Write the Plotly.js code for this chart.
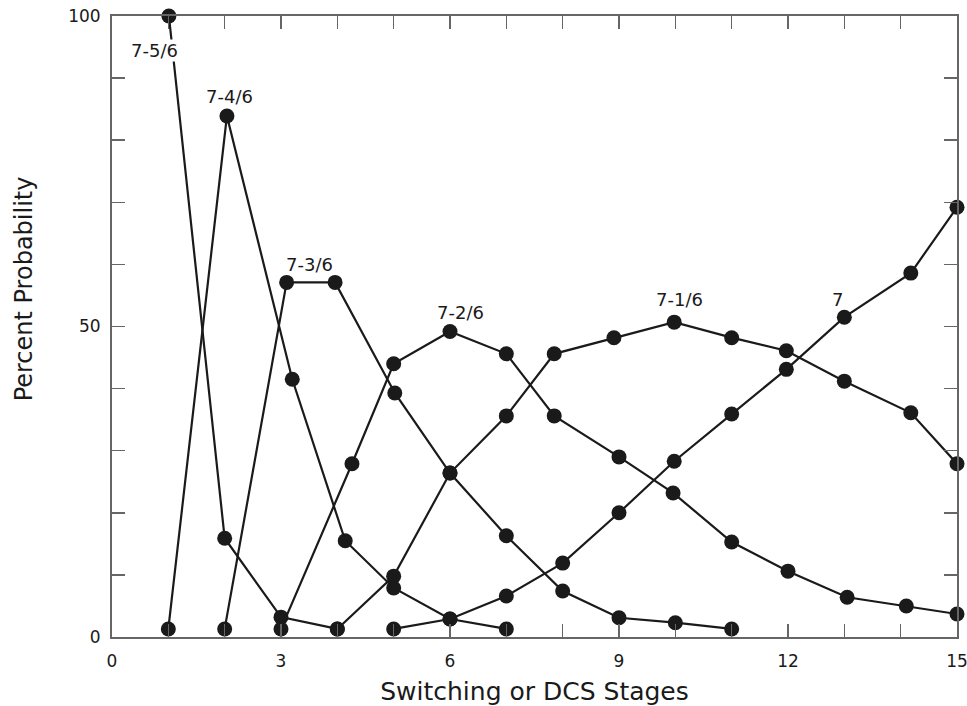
<!DOCTYPE html>
<html>
<head>
<meta charset="utf-8">
<script src="https://cdn.plot.ly/plotly-3.0.1.min.js"></script>
<style>html,body{margin:0;padding:0;background:#fff;}#chart{width:967px;height:706px;}</style>
</head>
<body>
<div id="chart"></div>
<script>
// Series names (curve labels)
const seriesNames = ["7-5/6", "7-4/6", "7-3/6", "7-2/6", "7-1/6", "7"];

// Values (x = stage, y = percent probability)
const x_7_5 = [1.01, 2.0, 3.0, 4.0];
const y_7_5 = [100, 15.9, 3.2, 1.3];

const x_7_4 = [1.0, 2.04, 3.2, 4.14, 5.0, 6.0, 7.0];
const y_7_4 = [1.3, 83.9, 41.5, 15.5, 7.9, 2.9, 1.3];

const x_7_3 = [2.0, 3.1, 3.96, 5.02, 6.0, 7.0, 8.0, 9.0, 10.0, 11.0];
const y_7_3 = [1.3, 57.1, 57.1, 39.3, 26.4, 16.3, 7.4, 3.1, 2.3, 1.3];

const x_7_2 = [3.0, 4.26, 5.0, 6.0, 7.0, 7.85, 9.0, 9.96, 11.0, 12.0, 13.05, 14.1, 15.0];
const y_7_2 = [1.3, 27.9, 44.0, 49.2, 45.6, 35.6, 29.0, 23.2, 15.3, 10.6, 6.4, 5.0, 3.7];

const x_7_1 = [4.0, 5.0, 6.0, 7.0, 7.85, 8.91, 9.98, 11.0, 11.97, 13.0, 14.18, 15.0];
const y_7_1 = [1.3, 9.8, 26.4, 35.6, 45.6, 48.2, 50.7, 48.2, 46.1, 41.2, 36.1, 27.9];

const x_7 = [5.0, 6.0, 7.0, 8.0, 9.0, 9.98, 11.0, 11.97, 13.0, 14.18, 15.0];
const y_7 = [1.3, 2.9, 6.6, 11.9, 20.0, 28.3, 35.9, 43.1, 51.5, 58.6, 69.2];

// Tick values / labels
const xTickVals = [0,1,2,3,4,5,6,7,8,9,10,11,12,13,14,15];
const xTickText = ["0","","","3","","","6","","","9","","","12","","","15"];
const yTickVals = [0,10,20,30,40,50,60,70,80,90,100];
const yTickText = ["0","","","","","50","","","","","100"];

// Axis titles
const xTitle = "Switching or DCS Stages";
const yTitle = "Percent Probability";

// Curve label positions (annotation anchors)
const labelX = [0.75, 2.08, 3.5, 6.18, 10.07, 12.87];
const labelY = [94.5, 87.0, 60.0, 52.3, 54.3, 54.3];

const xs = [x_7_5, x_7_4, x_7_3, x_7_2, x_7_1, x_7];
const ys = [y_7_5, y_7_4, y_7_3, y_7_2, y_7_1, y_7];

const FONT = "DejaVu Sans, Liberation Sans, sans-serif";

const traces = xs.map((xv, i) => ({
  x: xv, y: ys[i], name: seriesNames[i],
  type: "scatter", mode: "lines+markers",
  line: {color: "#1a1a1a", width: 2.2},
  marker: {color: "#1a1a1a", size: 15},
  cliponaxis: false,
  showlegend: false
}));

const annotations = seriesNames.map((n, i) => ({
  x: labelX[i], y: labelY[i], xref: "x", yref: "y",
  text: n, showarrow: false, bgcolor: i === 0 ? "#ffffff" : "rgba(0,0,0,0)",
  borderpad: 0,
  font: {family: FONT, size: 18, color: "#1a1a1a"}
}));

annotations.push({
  xref: "paper", yref: "paper", x: -0.104, y: 0.56,
  xanchor: "center", yanchor: "middle", textangle: -90,
  text: yTitle, showarrow: false,
  font: {family: FONT, size: 24, color: "#1a1a1a"}
});

const layout = {
  width: 967, height: 706,
  margin: {l: 112, r: 10, t: 16, b: 69},
  paper_bgcolor: "#fff", plot_bgcolor: "#fff",
  font: {family: FONT, color: "#1a1a1a"},
  xaxis: {
    range: [0, 15], tickvals: xTickVals, ticktext: xTickText,
    ticks: "inside", ticklen: 13, tickwidth: 1.5, tickcolor: "#666",
    showline: true, linecolor: "#666", linewidth: 2, mirror: "ticks",
    showgrid: false, zeroline: false, ticklabeloverflow: "allow",
    ticklabelstandoff: 8,
    tickfont: {family: FONT, size: 17, color: "#1a1a1a"},
    title: {text: xTitle, font: {family: FONT, size: 25, color: "#1a1a1a"}, standoff: 12}
  },
  yaxis: {
    range: [0, 100], tickvals: yTickVals, ticktext: yTickText,
    ticks: "inside", ticklen: 13, tickwidth: 1.5, tickcolor: "#666",
    showline: true, linecolor: "#666", linewidth: 2, mirror: "ticks",
    showgrid: false, zeroline: false, ticklabeloverflow: "allow",
    ticklabelstandoff: 6,
    tickfont: {family: FONT, size: 17, color: "#1a1a1a"}
  },
  annotations: annotations
};

Plotly.newPlot("chart", traces, layout, {staticPlot: true, displayModeBar: false});
</script>
</body>
</html>
